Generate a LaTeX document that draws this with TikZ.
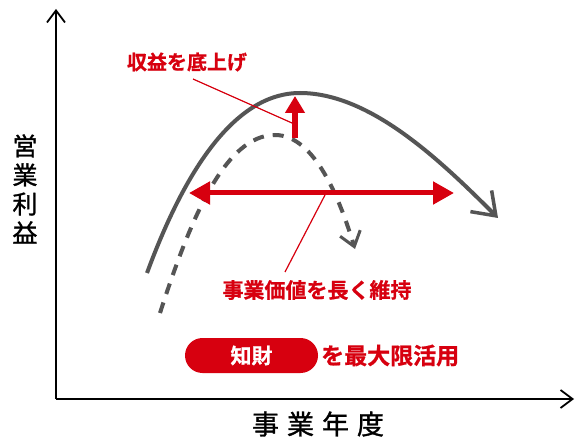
\documentclass[tikz,border=0pt]{standalone}
\usepackage{fontspec}
\newfontfamily\jp{Noto Sans CJK JP}
\newfontfamily\jpax[FakeBold=1.2]{Noto Sans CJK JP}
\newfontfamily\jpbk[FakeBold=0.8]{Noto Sans CJK JP Bold}
\usetikzlibrary{arrows.meta}
\definecolor{kred}{RGB}{215,0,15}
\definecolor{kgray}{RGB}{85,85,85}
\tikzset{
  axis/.style={line width=1.8pt, black, -{Straight Barb[length=12pt,width=18pt,line width=1.8pt]}},
  solidcurve/.style={line width=4pt, kgray, -{Straight Barb[length=21pt,width=30pt,line width=3.5pt]}},
  dashcurve/.style={line width=4pt, kgray, dash pattern=on 11pt off 9pt, -{Straight Barb[length=14pt,width=21pt,line width=3pt]}},
  redlbl/.style={text=kred, font=\jpbk\fontsize{20pt}{24pt}\selectfont, inner sep=0pt},
  thinred/.style={kred, line width=1.2pt},
  axlbl/.style={text=black, font=\jpax\fontsize{25pt}{29pt}\selectfont, inner sep=0pt}
}
\begin{document}
\begin{tikzpicture}[x=1pt,y=-1pt]
\useasboundingbox (0,0) rectangle (576,441);
\fill[white] (0,0) rectangle (576,441);
% axes
\coordinate (orig) at (56,399);
\coordinate (ytop) at (56,9);
\coordinate (xend) at (574,399);
\draw[axis] (orig) -- (ytop);
\draw[axis] (orig) -- (xend);
\node[axlbl, align=center] (ylbl) at (25,189) {営\\業\\利\\益};
\node[axlbl, font=\jpax\fontsize{27pt}{30pt}\selectfont] (xlbl) at (318,424) {事\hspace{8pt}業\hspace{8pt}年\hspace{8pt}度};
% curves
\draw[solidcurve] (147,273) .. controls (185,170) and (235,93) .. (300,93) .. controls (370,93) and (440,160) .. (498,218);
\draw[dashcurve] (160,313) .. controls (190,220) and (225,135) .. (275,135) .. controls (315,135) and (340,200) .. (355,249);
% red arrows
\coordinate (ua) at (295,138);
\coordinate (ub) at (295,96);
\draw[kred, line width=6pt, -{Triangle[length=17pt,width=19pt]}] (ua) -- (ub);
\coordinate (da) at (189,193);
\coordinate (db) at (454,193);
\draw[kred, line width=5pt, {Triangle[length=21pt,width=22pt]}-{Triangle[length=21pt,width=22pt]}] (da) -- (db);
% labels
\node[redlbl] (l1) at (187,62) {収益を底上げ};
\coordinate (l1a) at (193,79);
\coordinate (l1b) at (292,123);
\draw[thinred] (l1a) -- (l1b);
\node[redlbl, font=\jpbk\fontsize{21pt}{24pt}\selectfont] (l2) at (317,290) {事業価値を長く維持};
\coordinate (l2a) at (285,272);
\coordinate (l2b) at (325,195);
\draw[thinred] (l2a) -- (l2b);
% pill
\node[fill=kred, rounded corners=17.5pt, minimum width=133pt, minimum height=35pt, inner sep=0pt, text=white, font=\jpbk\fontsize{21pt}{24pt}\selectfont] (pill) at (251.5,355.5) {知財};
\node[redlbl, anchor=west, font=\jpbk\fontsize{23pt}{26pt}\selectfont] (l3) at (321,355.5) {を最大限活用};
\end{tikzpicture}
\end{document}
